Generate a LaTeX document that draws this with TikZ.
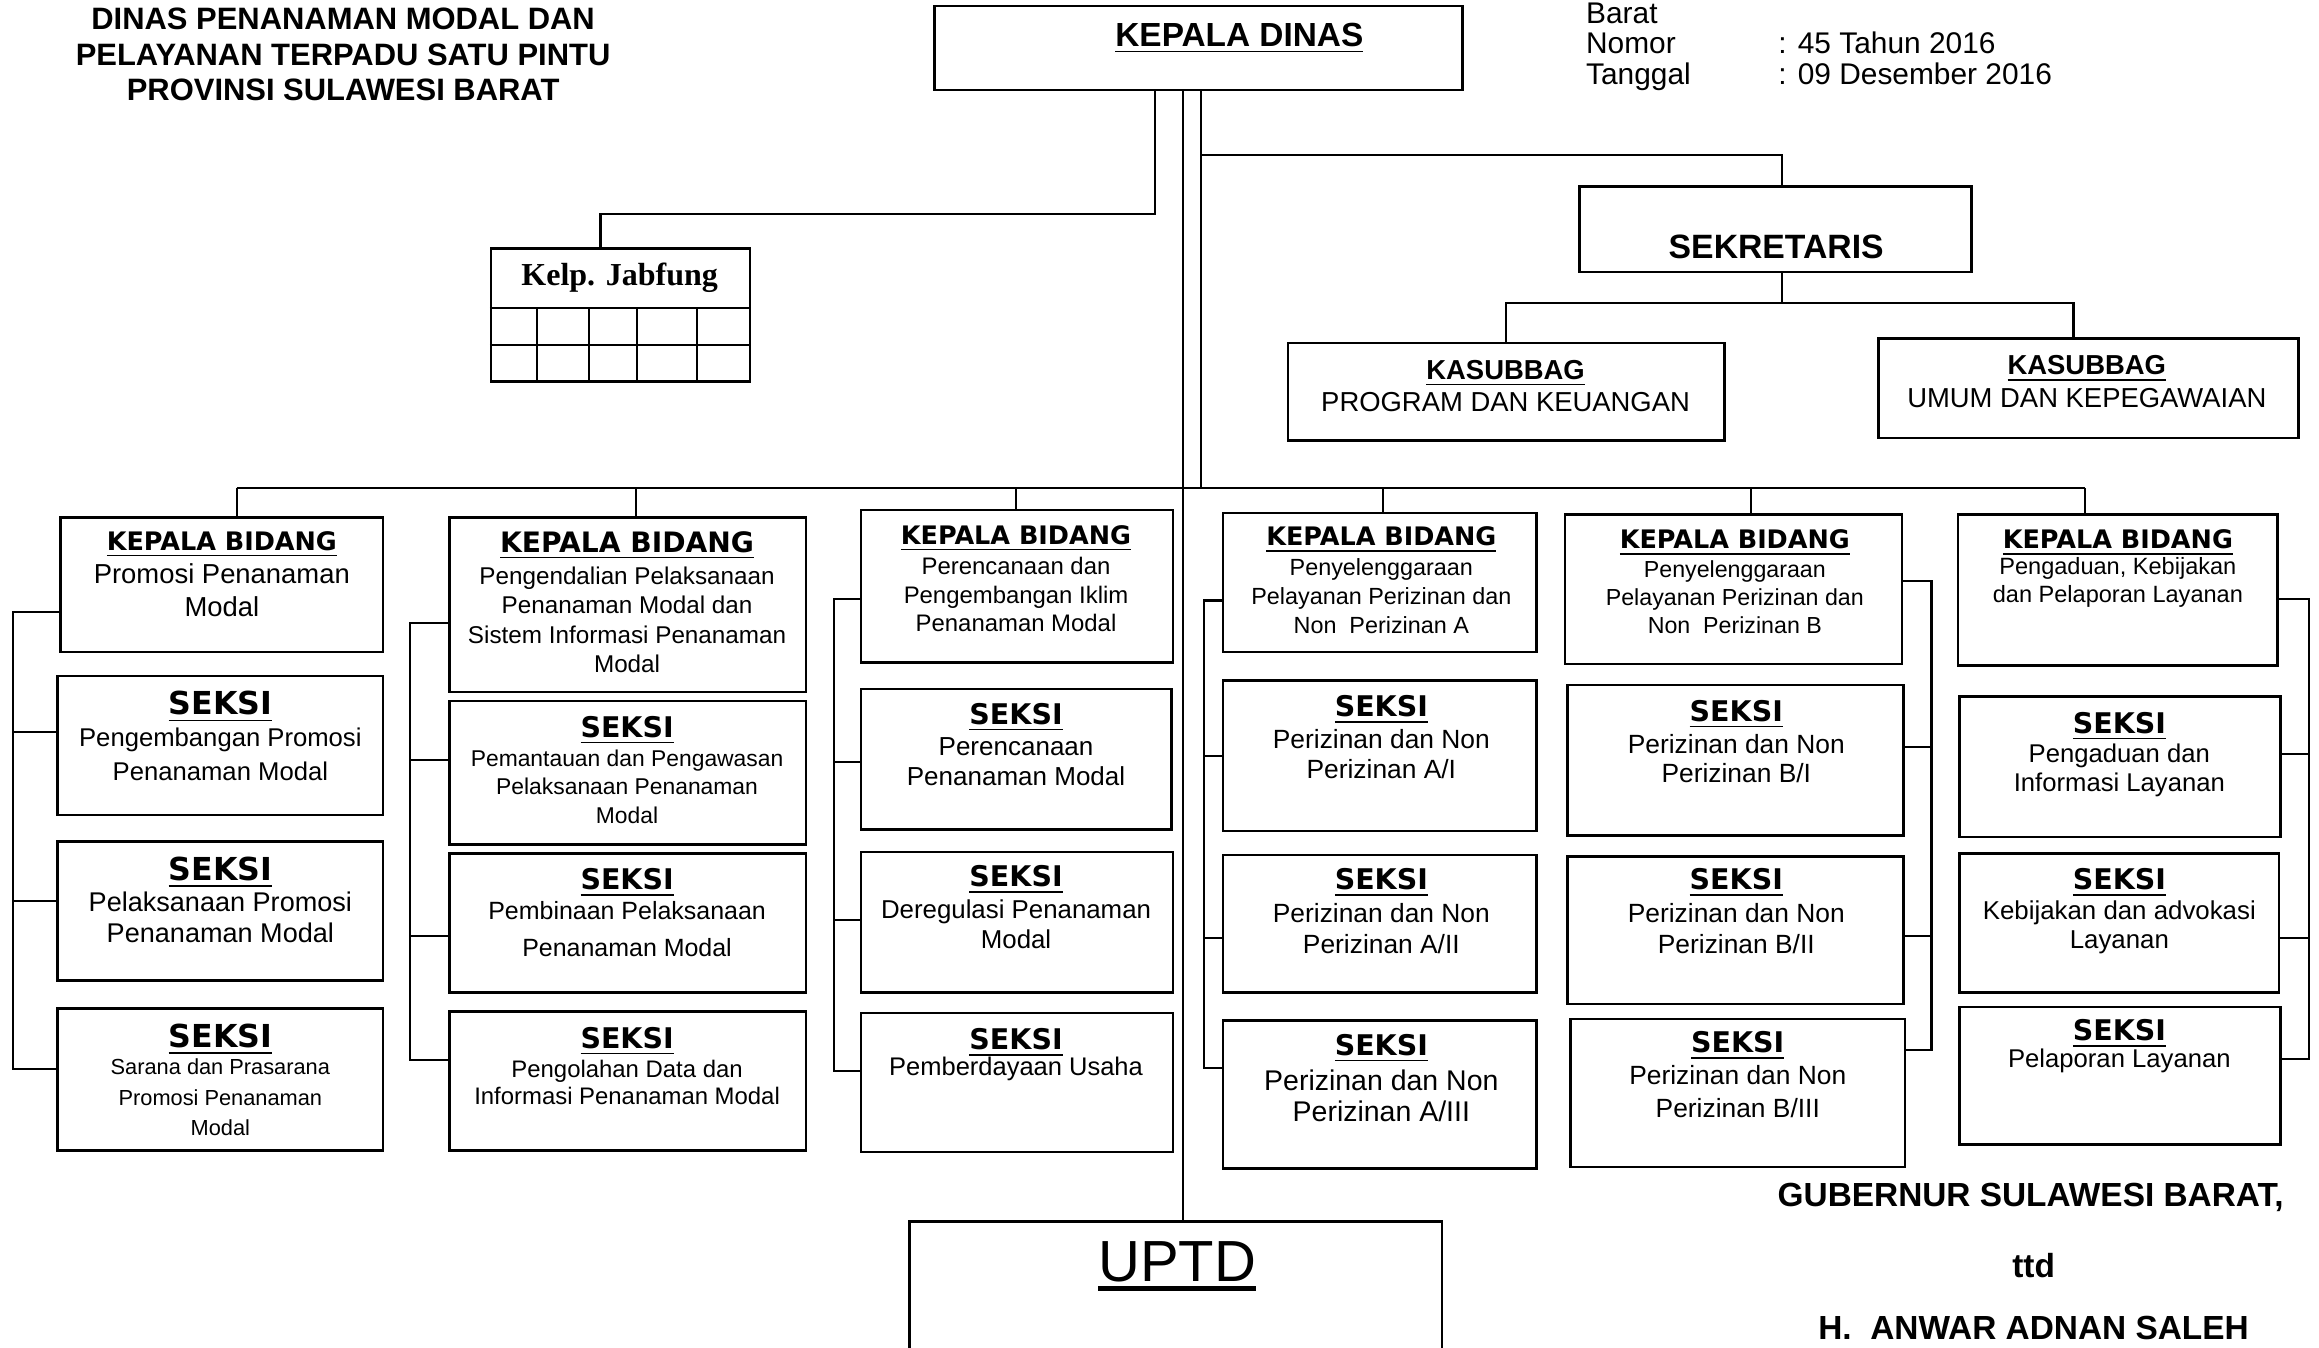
\documentclass[tikz,border=0pt]{standalone}
\usepackage{fontspec}
\setmainfont{Liberation Sans}
\newfontfamily\hdfont{DejaVu Sans}
\newfontfamily\jabfont{Liberation Serif}
\usepackage{tikz}
\usetikzlibrary{fit, positioning, calc}
\newcommand\ulthick[1]{\setbox0\hbox{#1}\rlap{\rule[-2.6pt]{\wd0}{1.3pt}}\box0}

\tikzset{
    box/.style={draw, line width=0.7pt, inner sep=0pt},
    link/.style={line width=0.6pt},
    txt/.style 2 args={align=center, inner sep=0pt, font=\fontsize{#1}{#2}\selectfont},
    kbhead/.style={inner sep=0pt, font=\hdfont\bfseries\fontsize{#1}{#1}\selectfont},
    kbhead/.default=7.25,
    skhead/.style={inner sep=0pt, font=\hdfont\bfseries\fontsize{#1}{#1}\selectfont},
    skhead/.default=8.1,
    bold/.style={inner sep=0pt, font=\bfseries\fontsize{#1}{#1}\selectfont}
}

\begin{document}
\begin{tikzpicture}[x=0.01479cm, y=-0.01479cm]
    \useasboundingbox (0,0) rectangle (1568,911);
    % kop
    \node[align=center, inner sep=0pt, font=\bfseries\fontsize{8.8}{10.1}\selectfont] (judul) at (232,37)
        {DINAS PENANAMAN MODAL DAN\\PELAYANAN TERPADU SATU PINTU\\PROVINSI SULAWESI BARAT};
    \node[anchor=base west, txt={8.5}{9.3}] (brt) at (1072,16) {Barat};
    \node[anchor=base west, txt={8.5}{9.3}] (nmr) at (1072,36) {Nomor};
    \node[anchor=base west, txt={8.5}{9.3}] (nmrv) at (1202,36) {: 45 Tahun 2016};
    \node[anchor=base west, txt={8.5}{9.3}] (tgl) at (1072,57) {Tanggal};
    \node[anchor=base west, txt={8.5}{9.3}] (tglv) at (1202,57) {: 09 Desember 2016};

    % pimpinan dan sekretariat
    \node[box, fit={(632,4) (989,61)}] (kd) {};
    \node[bold=9.5] (kdt) at (838,26) {\underline{KEPALA DINAS}};
    \node[box, fit={(332,168) (507,258)}] (jab) {};
    \node[inner sep=0pt, font=\jabfont\bfseries\fontsize{9.1}{11}\selectfont] (jabt) at (419,188) {Kelp. Jabfung};
    \draw[link] (jab.west |- 0,208) -- (jab.east |- 0,208);
    \draw[link] (jab.west |- 0,233) -- (jab.east |- 0,233);
    \foreach \xx in {363,398,431,471}
        \draw[link] (\xx,208) -- (jab.south -| \xx,0);
    \node[box, fit={(1068,126) (1333,184)}] (sek) {};
    \node[bold=9.6] (sekt) at (1201,167) {SEKRETARIS};
    \node[box, fit={(871,232) (1166,298)}] (ks1) {};
    \node[txt={7.8}{9.3}] (ks1t) at (1018,261) {{\bfseries\underline{KASUBBAG}}\\PROGRAM DAN KEUANGAN};
    \node[box, fit={(1270,229) (1554,296)}] (ks2) {};
    \node[txt={7.8}{9.3}] (ks2t) at (1411,258) {{\bfseries\underline{KASUBBAG}}\\UMUM DAN KEPEGAWAIAN};
    \node[box, fit={(615,826) (975,940)}] (uptd) {};
    \node[inner sep=0pt, font=\fontsize{16.5}{19}\selectfont] (uptdt) at (796,856) {\ulthick{UPTD}};

    % bidang promosi
    \node[box, fit={(41,350) (259,441)}] (kb1) {};
    \node[kbhead] (kb1h) at (150,368) {\underline{KEPALA BIDANG}};
    \node[txt={7.8}{9.3}] (kb1t) at (150,399) {Promosi Penanaman\\Modal};
    \node[box, fit={(39,457) (259,551)}] (s11) {};
    \node[skhead=9] (s11h) at (149,478) {\underline{SEKSI}};
    \node[txt={7.3}{9.7}] (s11t) at (149,510) {Pengembangan Promosi\\Penanaman Modal};
    \node[box, fit={(39,569) (259,663)}] (s12) {};
    \node[skhead=9] (s12h) at (149,590) {\underline{SEKSI}};
    \node[txt={7.7}{8.8}] (s12t) at (149,620) {Pelaksanaan Promosi\\Penanaman Modal};
    \node[box, fit={(39,682) (259,778)}] (s13) {};
    \node[skhead=9] (s13h) at (149,703) {\underline{SEKSI}};
    \node[txt={6.2}{8.6}] (s13t) at (149,742) {Sarana dan Prasarana\\Promosi Penanaman\\Modal};

    % bidang pengendalian
    \node[box, fit={(304,350) (545,468)}] (kb2) {};
    \node[kbhead=8] (kb2h) at (424,369) {\underline{KEPALA BIDANG}};
    \node[txt={6.9}{8.4}] (kb2t) at (424,419) {Pengendalian Pelaksanaan\\Penanaman Modal dan\\Sistem Informasi Penanaman\\Modal};
    \node[box, fit={(304,474) (545,571)}] (s21) {};
    \node[skhead] (s21h) at (424,494) {\underline{SEKSI}};
    \node[txt={6.5}{8}] (s21t) at (424,532) {Pemantauan dan Pengawasan\\Pelaksanaan Penanaman\\Modal};
    \node[box, fit={(304,577) (545,671)}] (s22) {};
    \node[skhead] (s22h) at (424,597) {\underline{SEKSI}};
    \node[txt={7.1}{10.5}] (s22t) at (424,628) {Pembinaan Pelaksanaan\\Penanaman Modal};
    \node[box, fit={(304,684) (545,778)}] (s23) {};
    \node[skhead] (s23h) at (424,704) {\underline{SEKSI}};
    \node[txt={6.8}{7.6}] (s23t) at (424,732) {Pengolahan Data dan\\Informasi Penanaman Modal};

    % bidang perencanaan
    \node[box, fit={(582,345) (793,448)}] (kb3) {};
    \node[kbhead] (kb3h) at (687,364) {\underline{KEPALA BIDANG}};
    \node[txt={6.8}{8.2}] (kb3t) at (687,402) {Perencanaan dan\\Pengembangan Iklim\\Penanaman Modal};
    \node[box, fit={(582,466) (792,561)}] (s31) {};
    \node[skhead] (s31h) at (687,485) {\underline{SEKSI}};
    \node[txt={7.4}{8.8}] (s31t) at (687,515) {Perencanaan\\Penanaman Modal};
    \node[box, fit={(582,576) (793,671)}] (s32) {};
    \node[skhead] (s32h) at (687,595) {\underline{SEKSI}};
    \node[txt={7.35}{8.4}] (s32t) at (687,625) {Deregulasi Penanaman\\Modal};
    \node[box, fit={(582,685) (793,779)}] (s33) {};
    \node[skhead] (s33h) at (687,705) {\underline{SEKSI}};
    \node[txt={7.25}{8.4}] (s33t) at (687,723) {Pemberdayaan Usaha};

    % bidang pelayanan A
    \node[box, fit={(827,347) (1039,441)}] (kb4) {};
    \node[kbhead] (kb4h) at (934,365) {\underline{KEPALA BIDANG}};
    \node[txt={6.65}{8.2}] (kb4t) at (934,403) {Penyelenggaraan\\Pelayanan Perizinan dan\\Non~ Perizinan A};
    \node[box, fit={(827,460) (1039,562)}] (s41) {};
    \node[skhead] (s41h) at (934,480) {\underline{SEKSI}};
    \node[txt={7.5}{8.4}] (s41t) at (934,510) {Perizinan dan Non\\Perizinan A/I};
    \node[box, fit={(827,578) (1039,671)}] (s42) {};
    \node[skhead] (s42h) at (934,597) {\underline{SEKSI}};
    \node[txt={7.5}{8.8}] (s42t) at (934,628) {Perizinan dan Non\\Perizinan A/II};
    \node[box, fit={(827,690) (1039,790)}] (s43) {};
    \node[skhead] (s43h) at (934,709) {\underline{SEKSI}};
    \node[txt={8.1}{8.8}] (s43t) at (934,741) {Perizinan dan Non\\Perizinan A/III};

    % bidang pelayanan B
    \node[box, fit={(1058,348) (1286,449)}] (kb5) {};
    \node[kbhead] (kb5h) at (1173,367) {\underline{KEPALA BIDANG}};
    \node[txt={6.6}{8}] (kb5t) at (1173,404) {Penyelenggaraan\\Pelayanan Perizinan dan\\Non~ Perizinan B};
    \node[box, fit={(1060,463) (1287,565)}] (s51) {};
    \node[skhead] (s51h) at (1174,483) {\underline{SEKSI}};
    \node[txt={7.5}{8.4}] (s51t) at (1174,513) {Perizinan dan Non\\Perizinan B/I};
    \node[box, fit={(1060,579) (1287,679)}] (s52) {};
    \node[skhead] (s52h) at (1174,597) {\underline{SEKSI}};
    \node[txt={7.5}{8.8}] (s52t) at (1174,628) {Perizinan dan Non\\Perizinan B/II};
    \node[box, fit={(1062,689) (1288,789)}] (s53) {};
    \node[skhead] (s53h) at (1175,707) {\underline{SEKSI}};
    \node[txt={7.5}{9.2}] (s53t) at (1175,738) {Perizinan dan Non\\Perizinan B/III};

    % bidang pengaduan
    \node[box, fit={(1324,348) (1540,450)}] (kb6) {};
    \node[kbhead] (kb6h) at (1432,367) {\underline{KEPALA BIDANG}};
    \node[txt={6.7}{8}] (kb6t) at (1432,394) {Pengaduan, Kebijakan\\dan Pelaporan Layanan};
    \node[box, fit={(1325,471) (1542,566)}] (s61) {};
    \node[skhead] (s61h) at (1433,491) {\underline{SEKSI}};
    \node[txt={7.3}{8.4}] (s61t) at (1433,521) {Pengaduan dan\\Informasi Layanan};
    \node[box, fit={(1325,577) (1541,671)}] (s62) {};
    \node[skhead] (s62h) at (1433,597) {\underline{SEKSI}};
    \node[txt={7.35}{8.4}] (s62t) at (1433,627) {Kebijakan dan advokasi\\Layanan};
    \node[box, fit={(1325,681) (1542,774)}] (s63) {};
    \node[skhead] (s63h) at (1433,699) {\underline{SEKSI}};
    \node[txt={7.3}{8.4}] (s63t) at (1433,717) {Pelaporan Layanan};

    % pengesahan
    \node[anchor=base, bold=9.5] (gub) at (1373,816) {GUBERNUR SULAWESI BARAT,};
    \node[anchor=base, bold=9.5] (ttd) at (1375,864) {ttd};
    \node[anchor=base, bold=9.5] (nama) at (1375,906) {H.~ ANWAR ADNAN SALEH};

    % garis komando
    \draw[link] (kd.south -| 800,0) -- (uptd.north -| 800,0);
    \draw[link] (kd.south -| 781,0) |- (406,145) -- (jab.north -| 406,0);
    \draw[link] (kd.south -| 812,0) -- (812,330);
    \draw[link] (812,105) -| (sek.north -| 1205,0);
    \draw[link] (sek.south -| 1205,0) -- (1205,205);
    \draw[link] (ks1.north -| 1018,0) |- (1402,205) -- (ks2.north -| 1402,0);
    \draw[link] (160,330) -- (1410,330);
    \foreach \nd/\xx in {kb1/160, kb2/430, kb3/687, kb4/935, kb5/1184, kb6/1410}
        \draw[link] (\xx,330) -- (\nd.north -| \xx,0);

    % garis seksi
    \draw[link] (kb1.west |- 0,414) -| (9,723) -- (s13.west |- 0,723);
    \foreach \nd/\yy in {s11/495, s12/609}
        \draw[link] (9,\yy) -- (\nd.west |- 0,\yy);
    \draw[link] (kb2.west |- 0,421) -| (277,717) -- (s23.west |- 0,717);
    \foreach \nd/\yy in {s21/514, s22/633}
        \draw[link] (277,\yy) -- (\nd.west |- 0,\yy);
    \draw[link] (kb3.west |- 0,405) -| (564,724) -- (s33.west |- 0,724);
    \foreach \nd/\yy in {s31/515, s32/622}
        \draw[link] (564,\yy) -- (\nd.west |- 0,\yy);
    \draw[link] (kb4.west |- 0,406) -| (814,722) -- (s43.west |- 0,722);
    \foreach \nd/\yy in {s41/511, s42/634}
        \draw[link] (814,\yy) -- (\nd.west |- 0,\yy);
    \draw[link] (kb5.east |- 0,393) -| (1306,710) -- (s53.east |- 0,710);
    \foreach \nd/\yy in {s51/505, s52/633}
        \draw[link] (1306,\yy) -- (\nd.east |- 0,\yy);
    \draw[link] (kb6.east |- 0,405) -| (1561,716) -- (s63.east |- 0,716);
    \foreach \nd/\yy in {s61/510, s62/634}
        \draw[link] (1561,\yy) -- (\nd.east |- 0,\yy);
\end{tikzpicture}
\end{document}
